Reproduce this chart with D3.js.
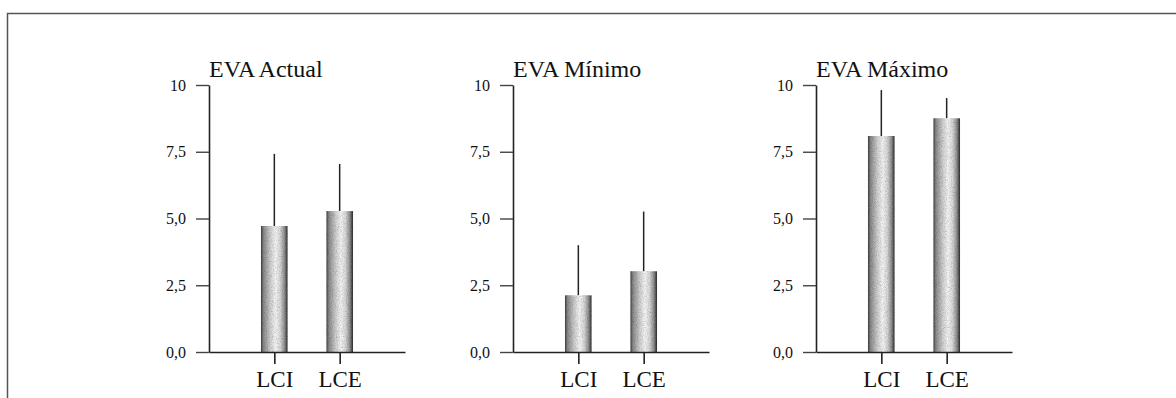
<!DOCTYPE html>
<html>
<head>
<meta charset="utf-8">
<script src="https://cdn.jsdelivr.net/npm/d3@7/dist/d3.min.js"></script>
<style>
  html, body { margin: 0; padding: 0; background: #fff; }
  svg { display: block; }
</style>
</head>
<body>
<div id="chart"></div>
<script>
// Datos
const panelTitles = ["EVA Actual", "EVA Mínimo", "EVA Máximo"];
const groups = ["LCI", "LCE"];
const meanValues = [[4.72, 5.28], [2.13, 3.03], [8.09, 8.76]];
const upperValues = [[7.42, 7.04], [4.0, 5.26], [9.81, 9.51]];
const yTicks = [0, 2.5, 5, 7.5, 10];
const yTickLabels = ["0,0", "2,5", "5,0", "7,5", "10"];

const FONT = '"Liberation Serif", "Times New Roman", serif';
const W = 1176, H = 398;
const AXIS_X = [209, 513, 816];
const AXIS_LEN = 196;
const Y0 = 352, Y10 = 85;
const BAR_W = 27;

const svg = d3.select("#chart").append("svg")
    .attr("width", W)
    .attr("height", H);

// Cadre
svg.append("path")
    .attr("d", `M7.5,${H} L7.5,13.5 L${W},13.5`)
    .attr("fill", "none")
    .attr("stroke", "#555")
    .attr("stroke-width", 1.5);

const defs = svg.append("defs");
const grad = defs.append("linearGradient").attr("id", "cyl");
[[0, "#3a3a3a"], [0.1, "#8a8a8a"], [0.35, "#cfcfcf"], [0.55, "#f6f6f6"],
 [0.72, "#d8d8d8"], [0.88, "#8e8e8e"], [1, "#262626"]].forEach(([o, c]) => {
    grad.append("stop").attr("offset", o * 100 + "%").attr("stop-color", c);
});

const grain = defs.append("filter").attr("id", "grain")
    .attr("x", 0).attr("y", 0).attr("width", 1).attr("height", 1);
grain.append("feTurbulence").attr("type", "fractalNoise")
    .attr("baseFrequency", 1.2).attr("numOctaves", 1).attr("seed", 3).attr("result", "noise");
grain.append("feColorMatrix").attr("in", "noise").attr("type", "matrix")
    .attr("values", "0.6 0.6 0 0 0.3  0.6 0.6 0 0 0.3  0.6 0.6 0 0 0.3  0 0 0 0 1")
    .attr("result", "gray");
grain.append("feBlend").attr("in", "SourceGraphic").attr("in2", "gray")
    .attr("mode", "multiply").attr("result", "b");
grain.append("feComposite").attr("in", "b").attr("in2", "SourceGraphic").attr("operator", "in");

const y = d3.scaleLinear().domain([0, 10]).range([Y0, Y10]);

panelTitles.forEach((title, p) => {
    const ax = AXIS_X[p];
    const g = svg.append("g");

    const x = d3.scalePoint()
        .domain(groups)
        .range([ax, ax + AXIS_LEN])
        .padding(1);

    // Titre
    g.append("text")
        .attr("x", ax)
        .attr("y", 77)
        .style("font-family", FONT)
        .style("font-size", "24px")
        .attr("fill", "#111")
        .text(title);

    // Axe Y
    const yAxis = d3.axisLeft(y)
        .tickValues(yTicks)
        .tickFormat((d, i) => yTickLabels[i])
        .tickSize(13)
        .tickPadding(10)
        .tickSizeOuter(0);

    const ya = g.append("g")
        .attr("transform", `translate(${ax},0)`)
        .call(yAxis);
    ya.select(".domain").attr("stroke", "#222").attr("stroke-width", 1.6);
    ya.selectAll(".tick line").attr("stroke", "#444").attr("stroke-width", 1.4);
    ya.selectAll(".tick text")
        .style("font-family", FONT)
        .style("font-size", "16px")
        .attr("fill", "#111");

    // Barres
    g.selectAll("rect.bar")
        .data(groups)
        .join("rect")
        .attr("class", "bar")
        .attr("x", d => x(d) - BAR_W / 2)
        .attr("y", (d, i) => y(meanValues[p][i]))
        .attr("width", BAR_W)
        .attr("height", (d, i) => Y0 - y(meanValues[p][i]))
        .attr("fill", "url(#cyl)")
        .attr("filter", "url(#grain)");

    // Erreurs (seulement vers le haut)
    g.selectAll("line.err")
        .data(groups)
        .join("line")
        .attr("class", "err")
        .attr("x1", d => x(d))
        .attr("x2", d => x(d))
        .attr("y1", (d, i) => y(meanValues[p][i]))
        .attr("y2", (d, i) => y(upperValues[p][i]))
        .attr("stroke", "#222")
        .attr("stroke-width", 1.5);

    // Axe X
    const xAxis = d3.axisBottom(x)
        .tickSize(12)
        .tickPadding(7)
        .tickSizeOuter(0);

    const xa = g.append("g")
        .attr("transform", `translate(0,${Y0})`)
        .call(xAxis);
    xa.select(".domain").attr("stroke", "#222").attr("stroke-width", 1.6);
    xa.selectAll(".tick line").attr("stroke", "#222").attr("stroke-width", 1.6);
    xa.selectAll(".tick text")
        .style("font-family", FONT)
        .style("font-size", "23px")
        .attr("fill", "#111");
});
</script>
</body>
</html>
